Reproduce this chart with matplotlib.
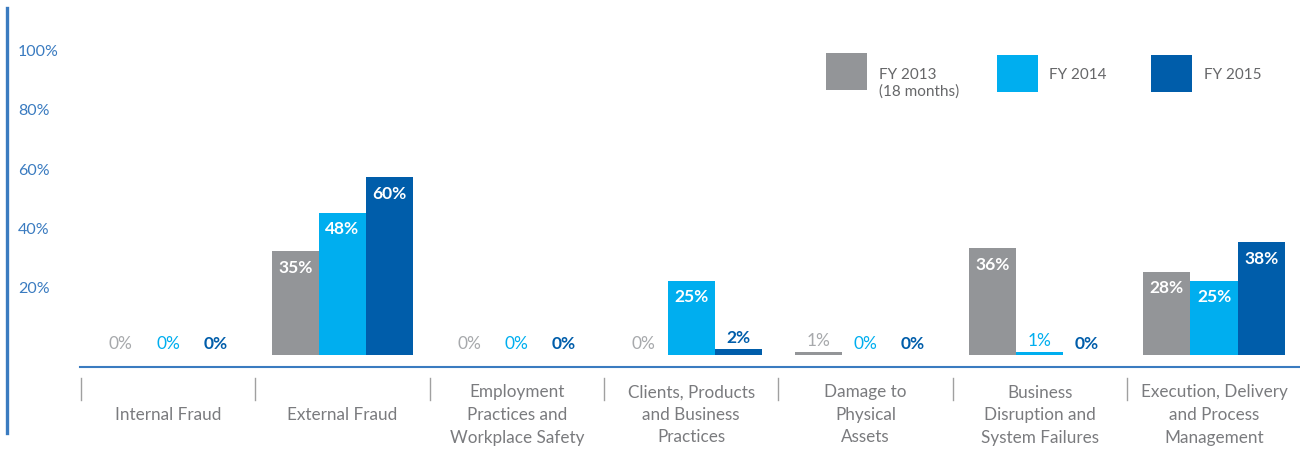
import matplotlib
matplotlib.use("Agg")
import matplotlib.pyplot as plt
from matplotlib.lines import Line2D
from matplotlib.patches import Rectangle
import matplotlib.transforms as mtransforms
import numpy as np

plt.rcParams['font.family'] = ['Lato', 'DejaVu Sans']

categories = ["Internal Fraud", "External Fraud", "Employment\nPractices and\nWorkplace Safety",
              "Clients, Products\nand Business\nPractices", "Damage to\nPhysical\nAssets",
              "Business\nDisruption and\nSystem Failures", "Execution, Delivery\nand Process\nManagement"]
series_names = ["FY 2013\n(18 months)", "FY 2014", "FY 2015"]
fy2013 = [0, 35, 0, 0, 1, 36, 28]
fy2014 = [0, 48, 0, 25, 0, 1, 25]
fy2015 = [0, 60, 0, 2, 0, 0, 38]
yticks = [20, 40, 60, 80, 100]

colors = ["#939598", "#00AEEF", "#005DAA"]
small_label_colors = ["#A7A9AC", "#00AEEF", "#005DAA"]
small_label_weights = ["normal", "normal", "bold"]
axis_blue = "#3A7BC0"
text_gray = "#7A7B7E"

W, H = 1300, 449
fig = plt.figure(figsize=(W / 100, H / 100), dpi=100)
fig.patch.set_facecolor("white")

def fx(px):
    return px / W

def fy(py):
    return 1 - py / H

ax_left, ax_right = 81, 1301.3
ax_bottom, ax_top = 354.7, 58.7
ax = fig.add_axes([fx(ax_left), fy(ax_bottom), (ax_right - ax_left) / W, (ax_bottom - ax_top) / H])
ax.set_xlim(-0.5, len(categories) - 0.5)
ax.set_ylim(0, 100)
ax.axis("off")

bw = 47.3 / 174.33
x = np.arange(len(categories))
all_series = [fy2013, fy2014, fy2015]
for si, vals in enumerate(all_series):
    xs = x + (si - 1) * bw
    ax.bar(xs, vals, width=bw, color=colors[si], linewidth=0)
    for xi, v in zip(xs, vals):
        if v >= 10:
            ax.annotate(f"{v}%", (xi, v), xytext=(0, -12), textcoords="offset points",
                        ha="center", va="center", color="white", fontsize=12.5,
                        fontweight="bold")
        else:
            ax.annotate(f"{v}%", (xi, v), xytext=(0, 7.5), textcoords="offset points",
                        ha="center", va="center", color=small_label_colors[si], fontsize=12.5,
                        fontweight=small_label_weights[si])

# y tick labels (left-aligned, right of the left rule)
ytrans = mtransforms.blended_transform_factory(fig.transFigure, ax.transData)
ytrans = ytrans + mtransforms.ScaledTranslation(0, 6.5 / 100, fig.dpi_scale_trans)
for t in yticks:
    fig.text(fx(18), t, f"{t}%", transform=ytrans, ha="left", va="center",
             color=axis_blue, fontsize=11.5, fontweight="normal")

# left vertical rule
fig.add_artist(Line2D([fx(7), fx(7)], [fy(433), fy(8)], color=axis_blue, lw=2.4,
                      transform=fig.transFigure))
# horizontal category axis rule
fig.add_artist(Line2D([fx(80), fx(1300)], [fy(367), fy(367)], color=axis_blue, lw=1.5,
                      transform=fig.transFigure))

# category separators and labels
xtrans = mtransforms.blended_transform_factory(ax.transData, fig.transFigure)
for i, cat in enumerate(categories):
    sx = i - 0.5
    fig.add_artist(Line2D([sx, sx], [fy(400), fy(378)], color="#A0A0A0", lw=1.0,
                          transform=xtrans))
    fig.text(i, fy(415), cat, transform=xtrans, ha="center", va="center",
             multialignment="center", color=text_gray, fontsize=12.3,
             fontweight="normal", linespacing=1.5)

# legend
leg_items = [(826, 53, 879), (997, 55, 1049), (1151, 55, 1204)]
for (lx, ly, tx), c, name in zip(leg_items, colors, series_names):
    fig.add_artist(Rectangle((fx(lx), fy(ly + 37)), 41 / W, 37 / H, color=c,
                             transform=fig.transFigure, lw=0))
    if "\n" in name:
        fig.text(fx(tx), fy(83), name, ha="left", va="center", color="#666769",
                 fontsize=11, fontweight="normal", linespacing=1.2)
    else:
        fig.text(fx(tx), fy(75), name, ha="left", va="center", color="#666769",
                 fontsize=11, fontweight="normal")

fig.savefig("out.png", dpi=100, facecolor="white")
